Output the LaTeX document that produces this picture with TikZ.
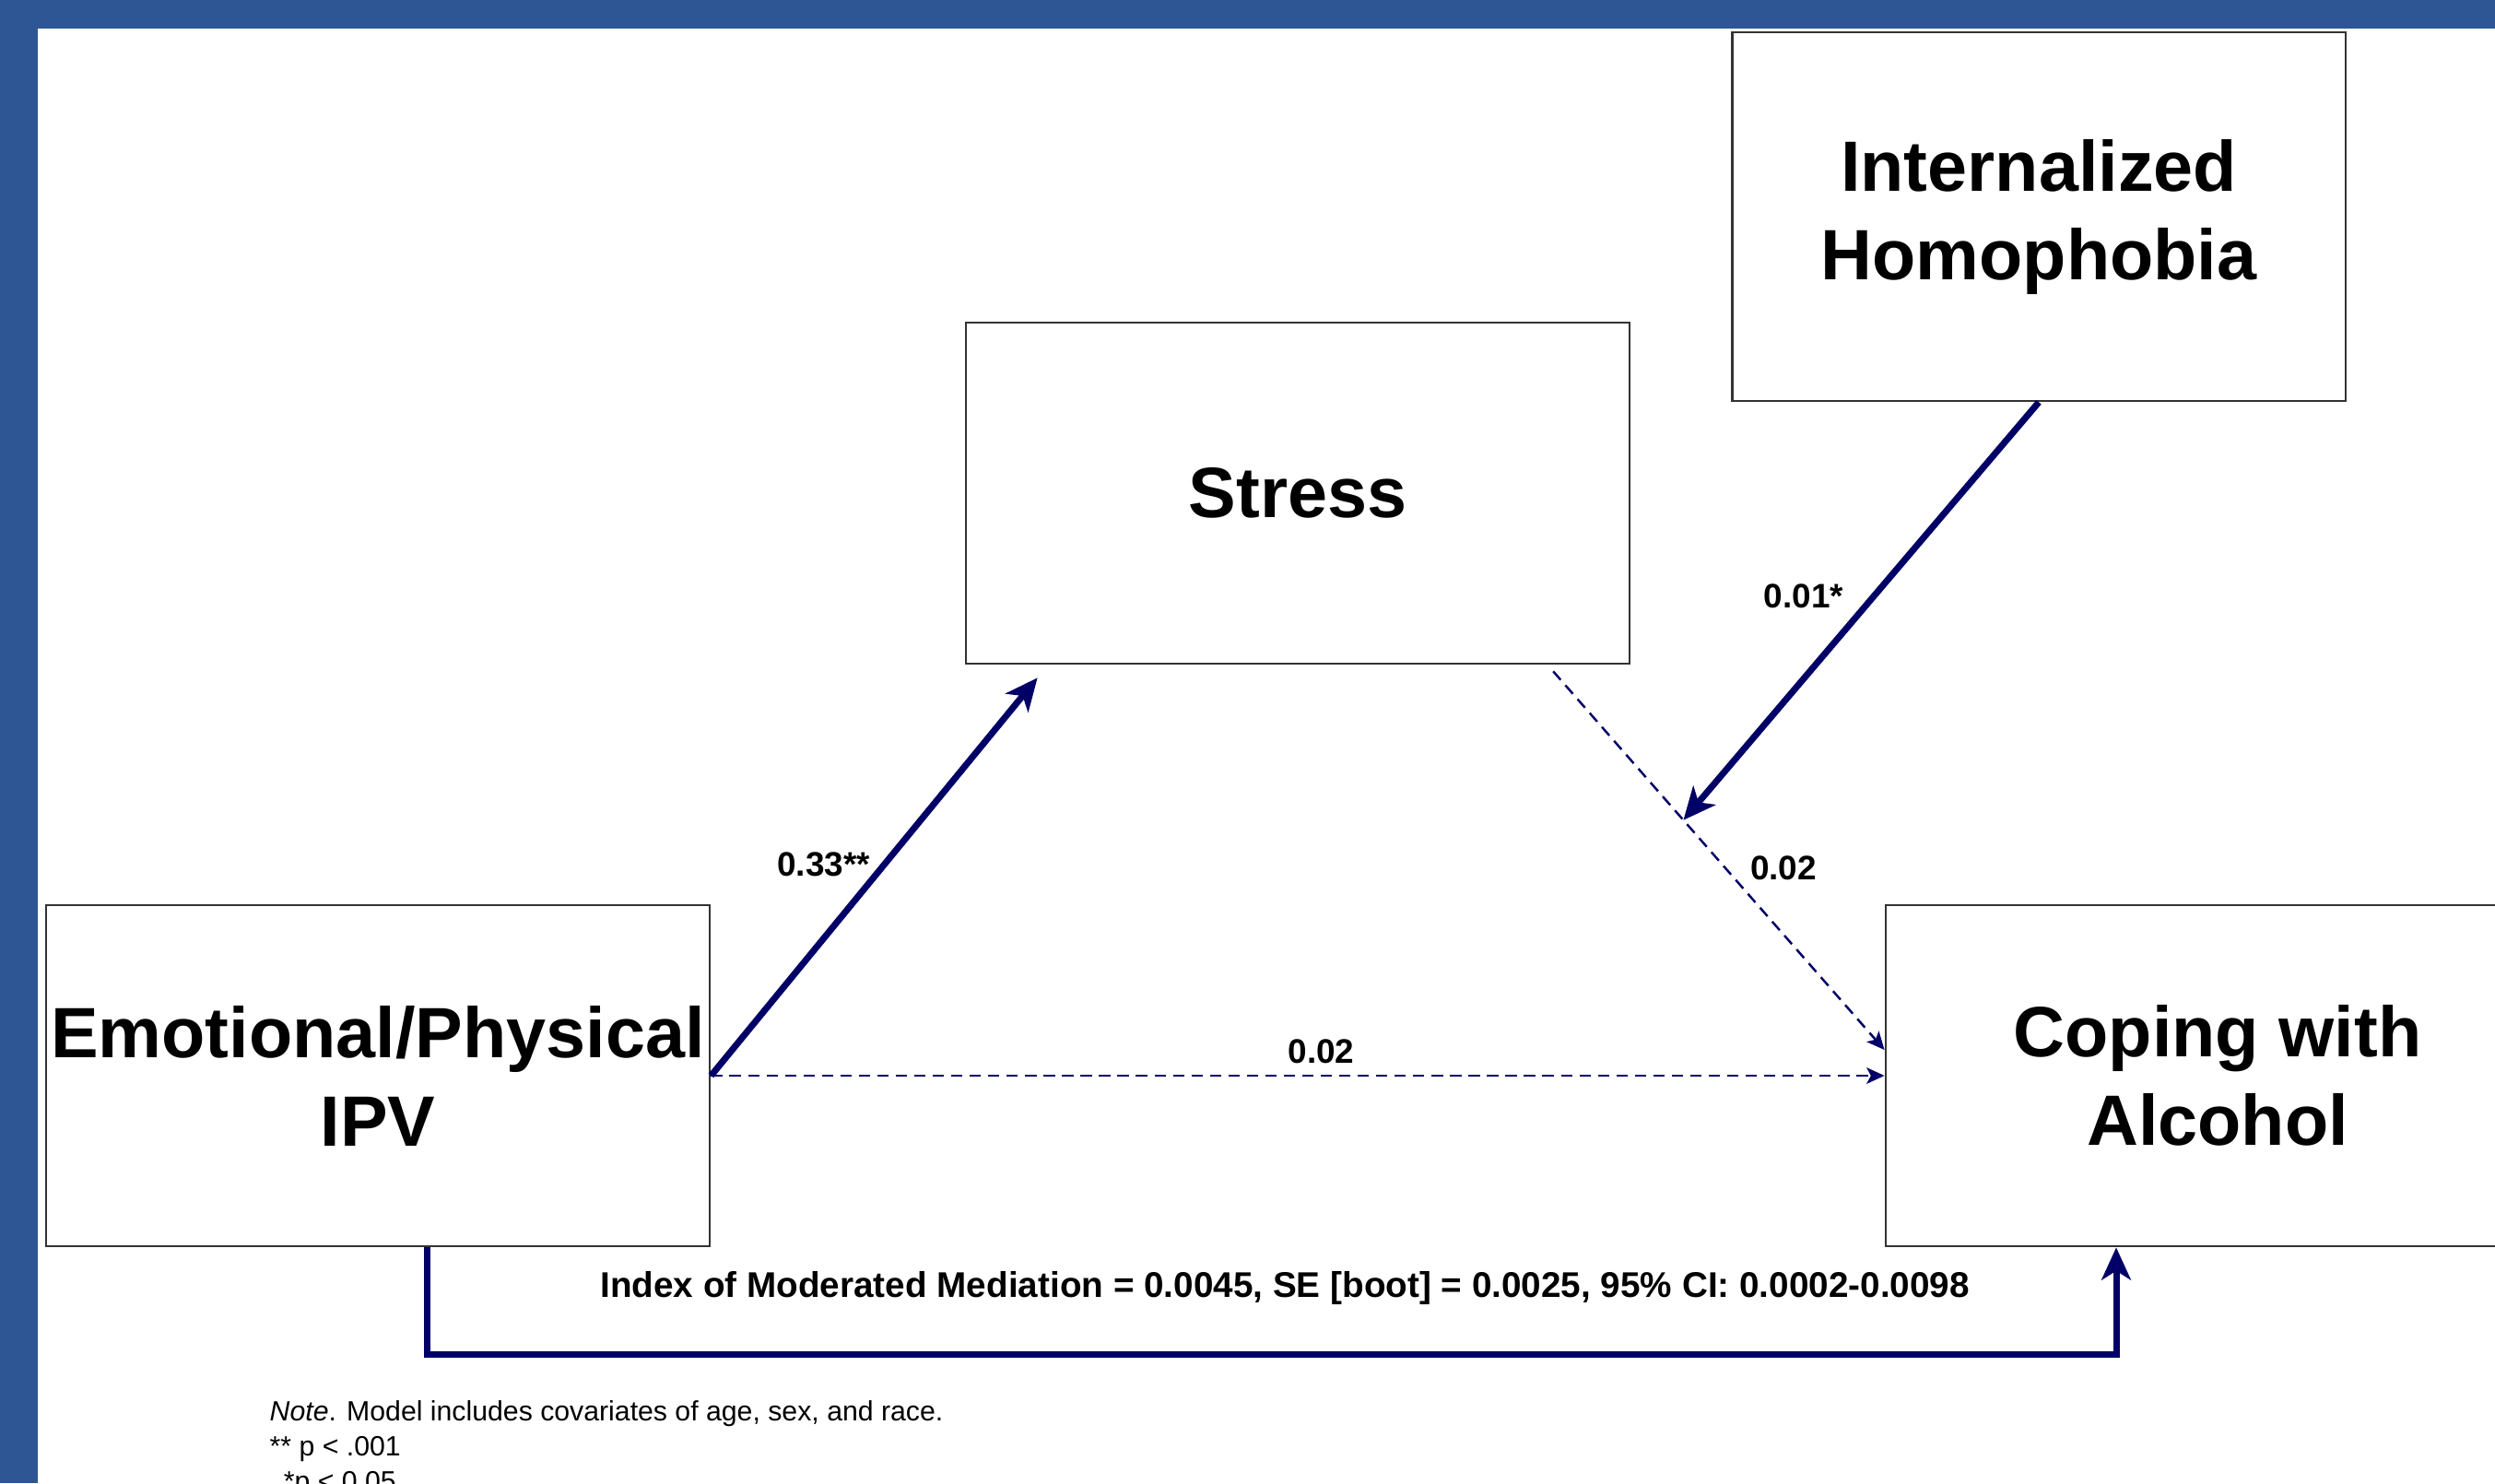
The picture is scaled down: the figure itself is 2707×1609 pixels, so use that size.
\documentclass[tikz,border=0pt]{standalone}
\usepackage{fontspec}
\setmainfont{Liberation Sans}
\usetikzlibrary{arrows.meta}
\definecolor{framecol}{RGB}{46,86,148}
\definecolor{pathnavy}{RGB}{0,0,102}

\begin{document}
\begin{tikzpicture}[x=0.01cm, y=-0.01cm,
    varbox/.style={rectangle, draw=black!80, line width=0.7pt, minimum width=7.2cm, minimum height=3.7cm, inner sep=0pt, align=center, font=\bfseries\fontsize{22}{27.3}\selectfont},
    effect/.style={draw=pathnavy, line width=2pt, -{Stealth[length=10pt, width=9pt, inset=2.8pt]}},
    weak/.style={draw=pathnavy, line width=0.7pt, dash pattern=on 3.5pt off 2.2pt, -{Stealth[length=5.5pt, width=5pt, inset=1.3pt]}},
    coef/.style={font=\bfseries\fontsize{10.5}{12}\selectfont}]
    \useasboundingbox (0,0) rectangle (2707,1609);
    \fill[framecol] (0,0) rectangle (2707,31);
    \fill[framecol] (0,0) rectangle (41,1609);

    \node[varbox] (IPV) at (410,1167) {Emotional/Physical\\IPV};
    \node[varbox] (Stress) at (1408,535) {Stress};
    \node[varbox, minimum width=6.65cm, minimum height=4cm] (IH) at (2212,235) {Internalized\\Homophobia};
    \node[varbox] (Coping) at (2406,1167) {Coping with\\Alcohol};

    \coordinate (sfrom) at ([xshift=2.77cm, yshift=-0.07cm]Stress.south);
    \coordinate (cto) at ([yshift=0.28cm]Coping.west);
    \coordinate (turn) at (2296,1469);

    % 矢印と係数
    \draw[effect] (IPV.east) -- node[coef, pos=0.53, left] {0.33**} ([xshift=0.79cm, yshift=-0.14cm]Stress.south west);
    \draw[weak] (IPV.east) -- node[coef, pos=0.52, above] {0.02} (Coping.west);
    \draw[weak] (sfrom) -- coordinate[pos=0.393] (mod) node[coef, pos=0.52, right=4pt] {0.02} (cto);
    \draw[effect] (IH.south) -- node[coef, pos=0.465, left=5pt] {0.01*} (mod);
    \draw[effect] ([xshift=0.53cm]IPV.south) |- node[coef, pos=0.754, above=11pt, font=\bfseries\fontsize{11}{13}\selectfont] {Index of Moderated Mediation = 0.0045, SE [boot] = 0.0025, 95\% CI: 0.0002-0.0098} (turn) -- (turn |- Coping.south);

    \node[anchor=north west, align=left, inner sep=0pt, font=\fontsize{8.6}{10.8}\selectfont] (note) at (292,1519) {\textit{Note}. Model includes covariates of age, sex, and race.\\{}** p < .001\\\hspace{0.5em}*p < 0.05};
\end{tikzpicture}
\end{document}
